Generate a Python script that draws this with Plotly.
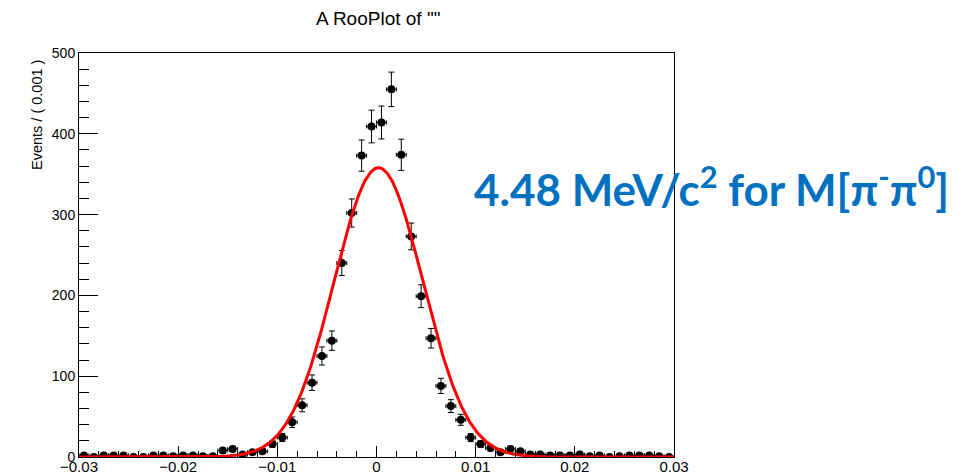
import numpy as np
import plotly.graph_objects as go

# Histogram binning: 60 bins of width 0.001 on [-0.03, 0.03]
bin_low = -0.03
bin_width = 0.001
n_bins = 60
bin_centers = [round(bin_low + bin_width * (i + 0.5), 4) for i in range(n_bins)]

# Event counts per bin
counts = [
    2, 0, 2, 2, 2, 0, 0, 2, 2, 1, 2, 2, 1, 1,          # -0.0295 .. -0.0165
    8, 10, 3, 6, 7, 16, 24, 43, 64, 92, 125, 144,       # -0.0155 .. -0.0045
    240, 302, 373, 409, 414, 455, 374, 273,            # -0.0035 .. 0.0035
    199, 147, 88, 63, 46, 24, 16, 11, 6, 10, 7, 3,     # 0.0045 .. 0.0155
    3, 2, 2, 2, 3, 1, 2, 0, 1, 2, 2, 2, 1, 0,          # 0.0165 .. 0.0295
]

# Gaussian fit result (peak height in events per bin)
fit_mean = 0.0002
fit_sigma = 0.00448
fit_peak = 358.0

y_ticks = [0, 100, 200, 300, 400, 500]
x_ticks = [-0.03, -0.02, -0.01, 0, 0.01, 0.02, 0.03]
x_tick_text = ["\u22120.03", "\u22120.02", "\u22120.01", "0", "0.01", "0.02", "0.03"]

errors = [float(np.sqrt(c)) for c in counts]

x_curve = np.linspace(-0.03, 0.03, 801)
y_curve = fit_peak * np.exp(-0.5 * ((x_curve - fit_mean) / fit_sigma) ** 2)

fig = go.Figure()

fig.add_trace(go.Scatter(
    x=bin_centers, y=counts, mode="markers",
    marker=dict(color="black", size=8, symbol="circle"),
    error_y=dict(type="data", array=errors, color="black", thickness=1, width=3),
    error_x=dict(type="constant", value=bin_width / 2, color="black", thickness=1, width=2),
    showlegend=False, cliponaxis=True,
))

fig.add_trace(go.Scatter(
    x=x_curve, y=y_curve, mode="lines",
    line=dict(color="#ff0000", width=3),
    showlegend=False,
))

font_family = "Liberation Sans, Arial, sans-serif"

fig.update_layout(
    width=976, height=476,
    margin=dict(l=79, r=302, t=53, b=19, autoexpand=False),
    paper_bgcolor="white", plot_bgcolor="white",
    xaxis=dict(
        range=[-0.03, 0.03], tickvals=x_ticks, ticktext=x_tick_text,
        ticks="inside", ticklen=11, tickwidth=1, tickcolor="black",
        minor=dict(dtick=0.002, tick0=0, ticks="inside", ticklen=6, tickcolor="black", showgrid=False),
        showgrid=False, zeroline=False, showline=True, linecolor="black", linewidth=1,
        mirror=True, ticklabelstandoff=-4,
        tickfont=dict(family=font_family, size=15, color="black"),
    ),
    yaxis=dict(
        range=[0, 500], tickvals=y_ticks,
        ticks="inside", ticklen=19, tickwidth=1, tickcolor="black",
        minor=dict(dtick=20, tick0=0, ticks="inside", ticklen=10, tickcolor="black", showgrid=False),
        showgrid=False, zeroline=False, showline=True, linecolor="black", linewidth=1,
        mirror=True, tickfont=dict(family=font_family, size=14, color="black"),
    ),
    annotations=[
        dict(text='A RooPlot of ""', xref="paper", yref="paper",
             x=0.5025, y=1.0866, xanchor="center", yanchor="middle", showarrow=False,
             font=dict(family=font_family, size=19, color="black")),
        dict(text="Events / ( 0.001 )", xref="paper", yref="paper",
             x=-0.0706, y=0.8465, xanchor="center", yanchor="middle", textangle=-90,
             showarrow=False,
             font=dict(family=font_family, size=14.5, color="black")),
        dict(text="<b>4.48 MeV/c<sup>2</sup> for M[\u03c0<sup>-</sup>\u03c0<sup>0</sup>]</b>",
             xref="paper", yref="paper", x=(472 - 79) / 595, y=(457 - 187) / 404,
             xanchor="left", yanchor="middle", showarrow=False,
             font=dict(family="Lato, Open Sans, sans-serif", size=44, color="#0070c0")),
    ],
)

fig.write_html("out.html")
